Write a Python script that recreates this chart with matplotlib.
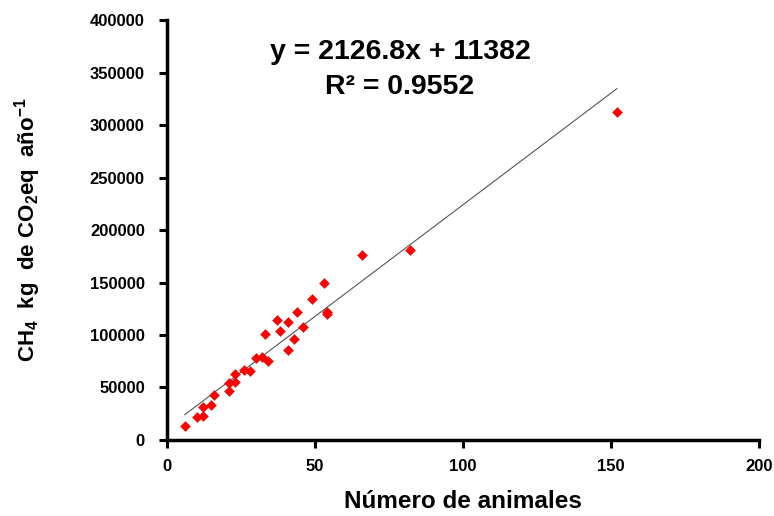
import matplotlib
matplotlib.use("Agg")
import matplotlib.pyplot as plt
import numpy as np

animals = [6, 10, 12, 12, 15, 16, 21, 21, 23, 23, 26, 28, 30, 32, 34, 33, 37, 38,
           41, 41, 43, 44, 46, 49, 53, 54, 54, 66, 82, 152]
ch4 = [13600, 21900, 22600, 31700, 33600, 43100, 46700, 54000, 55500, 62600,
       66700, 65400, 77800, 78800, 75200, 100600, 114300, 104100, 112400, 86000,
       95900, 122200, 108000, 134300, 149200, 122000, 119700, 176500, 181000, 312700]
slope = 2126.8
intercept = 11382
r2 = 0.9552
xticks = [0, 50, 100, 150, 200]
yticks = [0, 50000, 100000, 150000, 200000, 250000, 300000, 350000, 400000]

plt.rcParams['font.family'] = ['Liberation Sans', 'DejaVu Sans']
plt.rcParams['font.weight'] = 'bold'

fig = plt.figure(figsize=(7.74, 5.16), dpi=100)
ax = fig.add_axes([0.2158, 0.1473, 0.7648, 0.8139])

xs = np.array([min(animals), max(animals)])
ax.plot(xs, slope * xs + intercept, color='#555555', lw=0.8, zorder=2)
ax.scatter(animals, ch4, marker='D', s=26, color='#ff0000', edgecolors='#e00000',
           linewidths=0.3, zorder=3)

ax.set_xlim(0, 200)
ax.set_ylim(0, 400000)
ax.set_xticks(xticks)
ax.set_yticks(yticks)
ax.set_xticklabels([str(v) for v in xticks], fontsize=12, fontweight='bold')
ax.set_yticklabels([str(v) for v in yticks], fontsize=12, fontweight='bold')
ax.tick_params(axis='both', direction='out', length=6, width=2.2)
ax.tick_params(axis='x', pad=8)
ax.tick_params(axis='y', pad=10)

for s in ['top', 'right']:
    ax.spines[s].set_visible(False)
for s in ['left', 'bottom']:
    ax.spines[s].set_linewidth(2.5)

ax.set_xlabel('Número de animales', fontsize=17.5, fontweight='bold', va='center')
ax.xaxis.set_label_coords(0.5, -0.147)
ax.set_ylabel(r'CH$_\mathregular{4}$  kg  de CO$_\mathregular{2}$eq  año$^\mathregular{-1}$',
              fontsize=16, fontweight='bold', va='center', ha='center')
ax.yaxis.set_label_coords(-0.2348, 0.5)

ax.text(400 / 774, 1 - 52 / 516, f'y = {slope}x + {intercept}', transform=fig.transFigure,
        ha='center', va='center', fontsize=20.5, fontweight='bold')
ax.text(400 / 774, 1 - 87 / 516, f'R² = {r2}', transform=fig.transFigure,
        ha='center', va='center', fontsize=20.5, fontweight='bold')

fig.savefig('out.png', dpi=100)
